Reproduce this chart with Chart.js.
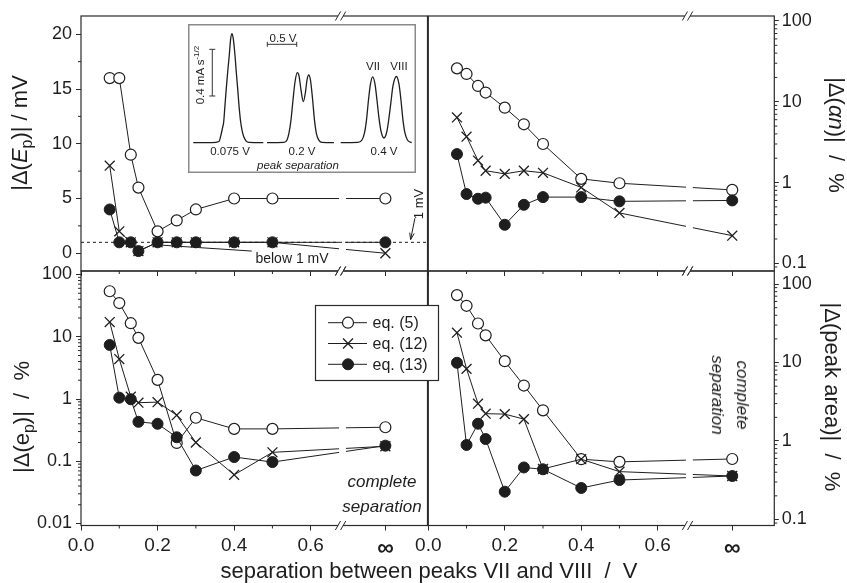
<!DOCTYPE html>
<html><head><meta charset="utf-8">
<script src="https://cdn.jsdelivr.net/npm/chart.js@4.4.1/dist/chart.umd.min.js"></script>
<style>
html,body{margin:0;padding:0;background:#fff;}
#wrap{position:relative;width:847px;height:583px;overflow:hidden;font-family:"Liberation Sans",Arial,Helvetica,sans-serif;color:#1e1e1e;background:#fff;}
#wrap canvas{position:absolute;}
.t{position:absolute;white-space:nowrap;line-height:1;transform:translate(-50%,-50%);}
.t.rl{transform:translate(-50%,-50%) rotate(-90deg);}
.t.rr{transform:translate(-50%,-50%) rotate(90deg);}
.ax{font-size:22px;}
.sub{font-size:72%;position:relative;top:0.3em;}
.ins{font-size:11.5px;}
.it{font-style:italic;}
.cs{font-size:17px;font-style:italic;text-align:center;line-height:25px;}
</style></head><body>
<div id="wrap">
<canvas id="cTL" width="847" height="583" style="left:0;top:0"></canvas>
<canvas id="cTR" width="847" height="583" style="left:0;top:0"></canvas>
<canvas id="cBR" width="847" height="583" style="left:0;top:0"></canvas>
<canvas id="cBL" width="847" height="583" style="left:0;top:0"></canvas>
<canvas id="cIn" width="228" height="149" style="left:188px;top:24px;background:#fff"></canvas>

<div class="t ax rl" style="left:20px;top:133px">|Δ(<i>E</i><span class="sub">p</span>)| / mV</div>
<div class="t ax rr" style="left:836px;top:135px">|Δ(<i>αn</i>)| &nbsp;/&nbsp; %</div>
<div class="t ax rl" style="left:22px;top:417px">|Δ(e<span class="sub">p</span>)| &nbsp;/&nbsp; %</div>
<div class="t ax rr" style="left:832px;top:397px">|Δ(peak area)| &nbsp;/&nbsp; %</div>
<div class="t ax" style="left:429px;top:571px">separation between peaks VII and VIII &nbsp;/&nbsp; V</div>

<div class="t cs" style="left:382px;top:494px">complete<br>separation</div>
<div class="t cs rr" style="left:730px;top:395px">complete<br>separation</div>

<div class="t rl" style="left:418px;top:204px;font-size:13px">1 mV</div>
<div class="t" style="left:292px;top:258px;font-size:14px">below 1 mV</div>

<div class="t ins" style="left:230px;top:152px">0.075 V</div>
<div class="t ins" style="left:302px;top:152px">0.2 V</div>
<div class="t ins" style="left:384px;top:152px">0.4 V</div>
<div class="t ins it" style="left:298px;top:165.5px">peak separation</div>
<div class="t ins" style="left:373px;top:67px">VII</div>
<div class="t ins" style="left:399px;top:67px">VIII</div>
<div class="t ins" style="left:283px;top:39px">0.5 V</div>
<div class="t ins rl" style="left:200px;top:75px">0.4 mA s<sup style="font-size:70%">-1/2</sup></div>
</div>

<script>
// ---------------- data ----------------
const SEP_LABELS = ['0.075','0.1','0.13','0.15','0.2','0.25','0.3','0.4','0.5','∞'];
const SEP = [0.075, 0.1, 0.13, 0.15, 0.2, 0.25, 0.3, 0.4, 0.5, Infinity];
const INF_AT = 0.795;           // where "∞" sits on the broken axis
const X_TICKS = [0, 0.2, 0.4, 0.6, INF_AT];
const X_MINOR = [0.1, 0.3, 0.5];

// |Δ(Ep)| / mV
const EP_EQ5  = [16, 16, 9, 6, 2, 3, 4, 5, 5, 5];
const EP_EQ12 = [8, 2, 1, 0.2, 1, 1, 1, 1, 1, 0];
const EP_EQ13 = [4, 1, 1, 0.2, 1, 1, 1, 1, 1, 1];
const EP_LIMIT = 1; // 1 mV dashed line

// |Δ(αn)| / %
const AN_EQ5  = [25.9, 22.1, 15.7, 13.0, 8.45, 5.26, 3.0, 1.11, 0.98, 0.81];
const AN_EQ12 = [6.4, 3.7, 1.87, 1.40, 1.28, 1.40, 1.32, 0.87, 0.42, 0.22];
const AN_EQ13 = [2.25, 0.72, 0.63, 0.65, 0.30, 0.53, 0.66, 0.66, 0.585, 0.60];

// |Δ(ep)| / %
const EPK_EQ5  = [53.8, 34.8, 16.5, 9.6, 2.03, 0.197, 0.50, 0.331, 0.331, 0.352];
const EPK_EQ12 = [17.2, 4.38, 1.09, 0.873, 0.89, 0.55, 0.20, 0.0605, 0.139, 0.174];
const EPK_EQ13 = [7.38, 1.05, 0.99, 0.43, 0.40, 0.243, 0.071, 0.117, 0.097, 0.178];

// |Δ(peak area)| / %
const PA_EQ5  = [72.3, 52.8, 31.4, 22.2, 10.4, 5.09, 2.46, 0.586, 0.542, 0.59];
const PA_EQ12 = [24.0, 8.3, 2.99, 2.23, 2.2, 1.9, 0.44, 0.586, 0.407, 0.358];
const PA_EQ13 = [9.93, 0.89, 1.66, 1.06, 0.226, 0.46, 0.436, 0.252, 0.318, 0.358];

const LIN_TICKS = [0, 5, 10, 15, 20];
const LIN_MINOR = [2.5, 7.5, 12.5, 17.5];
const LOG_TICKS_3 = [0.1, 1, 10, 100];
const LOG_TICKS_4 = [0.01, 0.1, 1, 10, 100];

// inset voltammograms: [V, mA s^-1/2]
const INSET_075 = [[0.090,0],[0.408,0],[0.527,0.010],[0.553,0.049],[0.587,0.126],[0.607,0.177],[0.629,0.320],[0.651,0.463],[0.675,0.606],[0.702,0.749],[0.726,0.891],[0.748,0.934],[0.770,0.891],[0.799,0.749],[0.821,0.606],[0.845,0.463],[0.867,0.320],[0.896,0.177],[0.918,0.109],[0.944,0.057],[0.986,0.015],[1.037,0.002],[1.281,0]];
const INSET_02 = [[1.344,0],[1.633,0.002],[1.684,0.023],[1.718,0.083],[1.752,0.195],[1.786,0.366],[1.820,0.520],[1.859,0.600],[1.888,0.572],[1.922,0.452],[1.961,0.351],[1.998,0.434],[2.024,0.537],[2.053,0.580],[2.083,0.537],[2.117,0.383],[2.151,0.195],[2.185,0.075],[2.228,0.019],[2.279,0.002],[2.483,0]];
const INSET_04 = [[2.597,0],[2.891,0.002],[2.959,0.023],[3.002,0.083],[3.036,0.195],[3.070,0.366],[3.104,0.503],[3.141,0.563],[3.180,0.503],[3.214,0.366],[3.248,0.212],[3.282,0.100],[3.333,0.040],[3.384,0.100],[3.418,0.212],[3.452,0.349],[3.486,0.486],[3.546,0.567],[3.588,0.503],[3.622,0.366],[3.656,0.195],[3.690,0.083],[3.733,0.023],[3.804,0]];

// ---------------- style ----------------
const FONT = '"Liberation Sans", Arial, Helvetica, sans-serif';
const INK = '#1e1e1e';
const FRAME = '#2a2a2a';
const W = 847, H = 583, YW = 60, XH = 40;
const X_MAX = 0.905;
const BREAK_AT = 0.678;
const GAP_FROM = 0.674, GAP_TO = 0.692;

function breakDash(ctx) {
  const xs = ctx.chart.scales.x;
  const b0 = xs.getPixelForValue(GAP_FROM), b1 = xs.getPixelForValue(GAP_TO);
  const p0 = ctx.p0, p1 = ctx.p1;
  if (!(p0.x < b0 && p1.x > b1)) return undefined;
  const dx = p1.x - p0.x, dy = p1.y - p0.y, len = Math.hypot(dx, dy);
  return [(b0 - p0.x) / dx * len, (b1 - b0) / dx * len, len];
}

function xy(vals) {
  return vals.map((v, i) => ({x: SEP[i] === Infinity ? INF_AT : SEP[i], y: v}));
}

function seriesSets(v5, v12, v13) {
  const base = {borderColor: INK, borderWidth: 1, segment: {borderDash: breakDash}, clip: false};
  return [
    Object.assign({label: 'eq. (12)', data: xy(v12), pointStyle: 'crossRot', pointRadius: 7,
      pointBorderColor: INK, pointBackgroundColor: INK, pointBorderWidth: 1.3}, base),
    Object.assign({label: 'eq. (13)', data: xy(v13), pointStyle: 'circle', pointRadius: 5.5,
      pointBorderColor: INK, pointBackgroundColor: INK, pointBorderWidth: 1}, base),
    Object.assign({label: 'eq. (5)', data: xy(v5), pointStyle: 'circle', pointRadius: 5.5,
      pointBorderColor: INK, pointBackgroundColor: '#fff', pointBorderWidth: 1.2}, base)
  ];
}

function logMinor(min, max) {
  const out = [];
  for (let d = -3; d <= 3; d++) for (let k = 2; k <= 9; k++) {
    const v = k * Math.pow(10, d);
    if (v > min && v < max) out.push(v);
  }
  return out;
}

function drawBreak(ctx, x, y) {
  ctx.save();
  ctx.fillStyle = '#fff';
  ctx.fillRect(x - 2.5, y - 1.5, 5, 3);
  ctx.strokeStyle = FRAME; ctx.lineWidth = 1;
  for (const dx of [-2.6, 2.6]) {
    ctx.beginPath();
    ctx.moveTo(x + dx - 2.6, y + 4.5);
    ctx.lineTo(x + dx + 2.6, y - 4.5);
    ctx.stroke();
  }
  ctx.restore();
}

function arrow(ctx, x0, y0, x1, y1) {
  ctx.beginPath(); ctx.moveTo(x0, y0); ctx.lineTo(x1, y1); ctx.stroke();
  const a = Math.atan2(y1 - y0, x1 - x0), L = 7, s = 0.33;
  ctx.beginPath();
  ctx.moveTo(x1 - L * Math.cos(a - s), y1 - L * Math.sin(a - s));
  ctx.lineTo(x1, y1);
  ctx.lineTo(x1 - L * Math.cos(a + s), y1 - L * Math.sin(a + s));
  ctx.stroke();
}

function marker(ctx, ds, x, y) {
  ctx.save();
  ctx.lineWidth = ds.pointBorderWidth;
  ctx.strokeStyle = ds.pointBorderColor;
  ctx.fillStyle = ds.pointBackgroundColor;
  const r = ds.pointRadius;
  if (ds.pointStyle === 'crossRot') {
    const o = r * Math.SQRT1_2;
    ctx.beginPath();
    ctx.moveTo(x - o, y - o); ctx.lineTo(x + o, y + o);
    ctx.moveTo(x - o, y + o); ctx.lineTo(x + o, y - o);
    ctx.stroke();
  } else {
    ctx.beginPath(); ctx.arc(x, y, r, 0, Math.PI * 2); ctx.fill(); ctx.stroke();
  }
  ctx.restore();
}

function makeDeco(cfg) {
  return {
    id: 'deco',
    beforeDatasetsDraw(chart) {
      const {ctx, chartArea: a} = chart;
      const x = chart.scales.x, y = chart.scales.y;
      ctx.save();
      ctx.strokeStyle = FRAME; ctx.lineWidth = 1.2;
      ctx.strokeRect(a.left, a.top, a.right - a.left, a.bottom - a.top);
      ctx.lineWidth = 1;
      ctx.beginPath();
      for (const v of X_MINOR) {
        const px = x.getPixelForValue(v);
        ctx.moveTo(px, a.bottom); ctx.lineTo(px, a.bottom + 3);
      }
      const dir = cfg.right ? 1 : -1, ex = cfg.right ? a.right : a.left;
      for (const v of cfg.yMinor) {
        const py = y.getPixelForValue(v);
        ctx.moveTo(ex, py); ctx.lineTo(ex + dir * 3, py);
      }
      ctx.stroke();
      const bx = x.getPixelForValue(BREAK_AT);
      drawBreak(ctx, bx, a.top);
      drawBreak(ctx, bx, a.bottom);
      ctx.restore();
    },
    afterDraw(chart) { if (cfg.after) cfg.after(chart); }
  };
}

function panel(id, rect, yc, sets, showX, cfg) {
  const right = yc.position === 'right';
  cfg.right = right;
  const yFont = {family: FONT, size: 18};
  return new Chart(document.getElementById(id), {
    type: 'line',
    data: {datasets: sets},
    options: {
      responsive: false, animation: false, devicePixelRatio: 1, events: [],
      layout: {padding: {
        left: right ? rect.l : rect.l - YW,
        right: right ? W - rect.r - YW : W - rect.r,
        top: rect.t,
        bottom: H - rect.b - XH
      }},
      plugins: {legend: {display: false}, tooltip: {enabled: false}},
      scales: {
        x: {
          type: 'linear', position: 'bottom', min: 0, max: X_MAX,
          afterFit: s => { s.height = XH; },
          afterBuildTicks: s => { s.ticks = X_TICKS.map(v => ({value: v})); },
          ticks: {display: showX, autoSkip: false, maxRotation: 0, padding: 4, color: INK,
            font: c => (c.tick && Math.abs(c.tick.value - INF_AT) < 1e-9)
              ? {family: FONT, size: 23, weight: 'bold'} : {family: FONT, size: 19},
            callback: v => (Math.abs(v - INF_AT) < 1e-9 ? '∞' : v.toFixed(1))},
          grid: {display: true, drawOnChartArea: false, drawTicks: true, tickLength: 5, color: FRAME, tickColor: FRAME, tickWidth: 1},
          border: {display: false}
        },
        y: {
          type: yc.type, position: yc.position, min: yc.min, max: yc.max,
          afterFit: s => { s.width = YW; },
          afterBuildTicks: s => { s.ticks = yc.ticks.map(v => ({value: v})); },
          ticks: {autoSkip: false, padding: right ? 3 : 4, font: yFont, color: INK, callback: v => String(v)},
          grid: {display: true, drawOnChartArea: false, drawTicks: true, tickLength: right ? 4.5 : 5, color: FRAME, tickColor: FRAME, tickWidth: 1},
          border: {display: false}
        }
      }
    },
    plugins: [makeDeco(cfg)]
  });
}

// ---------------- panels ----------------
const TOP = {t: 16, b: 271}, BOT = {t: 271, b: 525.5};
const LEFT = {l: 81, r: 427.5}, RIGHT = {l: 428.3, r: 774.3};

// top-left
const tlSets = seriesSets(EP_EQ5, EP_EQ12, EP_EQ13);
tlSets.push({label: '1 mV', data: [{x: 0, y: EP_LIMIT}, {x: X_MAX, y: EP_LIMIT}], borderColor: INK, borderWidth: 1,
  borderDash: [3, 3], pointRadius: 0});
panel('cTL', {l: LEFT.l, r: LEFT.r, t: TOP.t, b: TOP.b},
  {type: 'linear', position: 'left', min: -1.62, max: 21.67, ticks: LIN_TICKS}, tlSets, false,
  {yMinor: LIN_MINOR, after(chart) {
    const {ctx} = chart, x = chart.scales.x, y = chart.scales.y;
    ctx.save(); ctx.strokeStyle = INK; ctx.lineWidth = 1;
    arrow(ctx, x.getPixelForValue(0.446), y.getPixelForValue(0.2), x.getPixelForValue(0.185), y.getPixelForValue(0.8));
    arrow(ctx, x.getPixelForValue(0.872), y.getPixelForValue(3.2), x.getPixelForValue(0.861), y.getPixelForValue(1.25));
    ctx.restore();
  }});

// top-right
panel('cTR', {l: RIGHT.l, r: RIGHT.r, t: TOP.t, b: TOP.b},
  {type: 'logarithmic', position: 'right', min: 0.0803, max: 115.3, ticks: LOG_TICKS_3},
  seriesSets(AN_EQ5, AN_EQ12, AN_EQ13), false, {yMinor: logMinor(0.0803, 115.3)});

// bottom-right
panel('cBR', {l: RIGHT.l, r: RIGHT.r, t: BOT.t, b: BOT.b},
  {type: 'logarithmic', position: 'right', min: 0.0838, max: 146.6, ticks: LOG_TICKS_3},
  seriesSets(PA_EQ5, PA_EQ12, PA_EQ13), true, {yMinor: logMinor(0.0838, 146.6)});

// bottom-left (with legend)
panel('cBL', {l: LEFT.l, r: LEFT.r, t: BOT.t, b: BOT.b},
  {type: 'logarithmic', position: 'left', min: 0.00929, max: 113.8, ticks: LOG_TICKS_4},
  seriesSets(EPK_EQ5, EPK_EQ12, EPK_EQ13), true,
  {yMinor: logMinor(0.00929, 113.8), after(chart) {
    const ctx = chart.ctx;
    const L = 315.5, T = 305.5, R = 438.5, B = 380.5;
    ctx.save();
    ctx.fillStyle = '#fff'; ctx.fillRect(L, T, R - L, B - T);
    ctx.strokeStyle = FRAME; ctx.lineWidth = 1.2; ctx.strokeRect(L, T, R - L, B - T);
    const order = [2, 0, 1];
    order.forEach((di, i) => {
      const ds = chart.data.datasets[di];
      const yy = 322.7 + i * 20.8;
      ctx.strokeStyle = INK; ctx.lineWidth = 1;
      ctx.beginPath(); ctx.moveTo(328, yy); ctx.lineTo(367, yy); ctx.stroke();
      marker(ctx, ds, 348, yy);
      ctx.fillStyle = INK; ctx.font = '16px ' + FONT; ctx.textBaseline = 'middle'; ctx.textAlign = 'left';
      ctx.fillText(ds.label, 372.5, yy + 1);
    });
    ctx.restore();
  }});

// ---------------- inset ----------------
const insetSet = (pts) => ({data: pts.map(p => ({x: p[0], y: p[1]})), borderColor: INK, borderWidth: 1.3,
  pointRadius: 0, cubicInterpolationMode: 'monotone', clip: false});
new Chart(document.getElementById('cIn'), {
  type: 'line',
  data: {datasets: [insetSet(INSET_075), insetSet(INSET_02), insetSet(INSET_04)]},
  options: {
    responsive: false, animation: false, devicePixelRatio: 1, events: [],
    layout: {padding: 0},
    plugins: {legend: {display: false}, tooltip: {enabled: false}},
    scales: {
      x: {type: 'linear', display: false, min: 0, max: 3.878},
      y: {type: 'linear', display: false, min: -0.26, max: 1.017}
    }
  },
  plugins: [{
    id: 'insetDeco',
    afterDraw(chart) {
      const {ctx, width, height} = chart;
      const x = chart.scales.x, y = chart.scales.y;
      ctx.save();
      ctx.strokeStyle = '#8a8a8a'; ctx.lineWidth = 1.5;
      ctx.strokeRect(0.75, 0.75, width - 1.5, height - 1.5);
      ctx.strokeStyle = '#333'; ctx.lineWidth = 1;
      const hx0 = x.getPixelForValue(1.349), hx1 = x.getPixelForValue(1.849), hy = y.getPixelForValue(0.843);
      ctx.beginPath();
      ctx.moveTo(hx0, hy); ctx.lineTo(hx1, hy);
      ctx.moveTo(hx0, hy - 2.5); ctx.lineTo(hx0, hy + 2.5);
      ctx.moveTo(hx1, hy - 2.5); ctx.lineTo(hx1, hy + 2.5);
      const vx = x.getPixelForValue(0.413), vy0 = y.getPixelForValue(0.4), vy1 = y.getPixelForValue(0.8);
      ctx.moveTo(vx, vy0); ctx.lineTo(vx, vy1);
      ctx.moveTo(vx - 3, vy0); ctx.lineTo(vx + 3, vy0);
      ctx.moveTo(vx - 3, vy1); ctx.lineTo(vx + 3, vy1);
      ctx.stroke();
      ctx.restore();
    }
  }]
});
</script>
</body></html>
